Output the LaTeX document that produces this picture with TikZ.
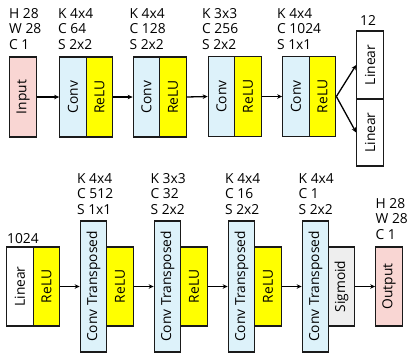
\documentclass[tikz,border=0pt]{standalone}
\usepackage{fontspec}
\setmainfont{Open Sans}
\usetikzlibrary{arrows.meta}
\definecolor{pinkc}{HTML}{F9D6D3}
\definecolor{bluec}{HTML}{DDF2FA}
\definecolor{yelc}{HTML}{FFFF00}
\definecolor{grayc}{HTML}{EEEEEE}
\definecolor{linec}{HTML}{1A1A1A}
\begin{document}
\begin{tikzpicture}[x=1pt,y=-1pt,
  font=\fontsize{13.8pt}{15.75pt}\selectfont,
  box/.style={draw=linec, line width=1.2pt, inner sep=0pt, minimum width=26.5pt},
  sh/.style={box, minimum height=80pt},
  tl/.style={box, minimum height=131pt},
  lab/.style={anchor=base west, inner sep=0pt, align=left},
  arr/.style={line width=1.3pt, draw=black, -{Stealth[length=5pt,width=4.5pt]}}]
\useasboundingbox (0,0) rectangle (415,354);
% top row
\node[sh, fill=pinkc] (in) at (23,97) {\rotatebox{90}{Input}};
\node[sh, fill=bluec] (c1) at (73,97) {\rotatebox{90}{Conv}};
\node[sh, fill=yelc] (r1) at (99.5,97) {\rotatebox{90}{ReLU}};
\node[sh, fill=bluec] (c2) at (146.5,97) {\rotatebox{90}{Conv}};
\node[sh, fill=yelc] (r2) at (173,97) {\rotatebox{90}{ReLU}};
\node[sh, fill=bluec] (c3) at (221.5,96.5) {\rotatebox{90}{Conv}};
\node[sh, fill=yelc] (r3) at (248,96.5) {\rotatebox{90}{ReLU}};
\node[sh, fill=bluec] (c4) at (296,96.5) {\rotatebox{90}{Conv}};
\node[sh, fill=yelc] (r4) at (322.5,96.5) {\rotatebox{90}{ReLU}};
\node[box, fill=white, minimum height=68pt] (l1) at (370,65) {\rotatebox{90}{Linear}};
\node[box, fill=white, minimum height=67pt] (l2) at (370,132.5) {\rotatebox{90}{Linear}};
\node[lab] (tin) at (9,49.5) {H 28\\W 28\\C 1};
\node[lab] (tc1) at (58,49.5) {K 4x4\\C 64\\S 2x2};
\node[lab] (tc2) at (129.5,49.5) {K 4x4\\C 128\\S 2x2};
\node[lab] (tc3) at (202,49.5) {K 3x3\\C 256\\S 2x2};
\node[lab] (tc4) at (277,49.5) {K 4x4\\C 1024\\S 1x1};
\node[anchor=base, inner sep=0pt] (t12) at (368,25) {12};
\draw[arr] (in.east) -- (c1.west);
\draw[arr] (r1.east) -- (c2.west);
\draw[arr] (r2.east) -- (c3.west);
\draw[arr] (r3.east) -- (c4.west);
\draw[arr] (r4.east) -- (l1.west);
\draw[arr] (r4.east) -- (l2.west);
% bottom row
\node[sh, fill=white, minimum height=79pt] (bl) at (20,286.5) {\rotatebox{90}{Linear}};
\node[sh, fill=yelc, minimum height=79pt] (br0) at (46.5,286.5) {\rotatebox{90}{ReLU}};
\node[tl, fill=bluec] (t1) at (93.5,286.5) {\rotatebox{90}{Conv Transposed}};
\node[sh, fill=yelc, minimum height=79pt] (br1) at (120,286.5) {\rotatebox{90}{ReLU}};
\node[tl, fill=bluec] (t2) at (167.5,286.5) {\rotatebox{90}{Conv Transposed}};
\node[sh, fill=yelc, minimum height=79pt] (br2) at (194,286.5) {\rotatebox{90}{ReLU}};
\node[tl, fill=bluec] (t3) at (241.5,286.5) {\rotatebox{90}{Conv Transposed}};
\node[sh, fill=yelc, minimum height=79pt] (br3) at (268,286.5) {\rotatebox{90}{ReLU}};
\node[tl, fill=bluec] (t4) at (315.5,286.5) {\rotatebox{90}{Conv Transposed}};
\node[sh, fill=grayc, minimum height=79pt] (sg) at (341.5,286.5) {\rotatebox{90}{Sigmoid}};
\node[sh, fill=pinkc, minimum height=79pt] (out) at (389,286.5) {\rotatebox{90}{Output}};
\node[lab] (t1024) at (7,243) {1024};
\node[lab] (tt1) at (77,214.5) {K 4x4\\C 512\\S 1x1};
\node[lab] (tt2) at (150.5,214.5) {K 3x3\\C 32\\S 2x2};
\node[lab] (tt3) at (225,214.5) {K 4x4\\C 16\\S 2x2};
\node[lab] (tt4) at (298.5,214.5) {K 4x4\\C 1\\S 2x2};
\node[lab] (tout) at (375.5,239.5) {H 28\\W 28\\C 1};
\draw[arr] (br0.east) -- (t1.west);
\draw[arr] (br1.east) -- (t2.west);
\draw[arr] (br2.east) -- (t3.west);
\draw[arr] (br3.east) -- (t4.west);
\draw[arr] (sg.east) -- (out.west);
\end{tikzpicture}
\end{document}
